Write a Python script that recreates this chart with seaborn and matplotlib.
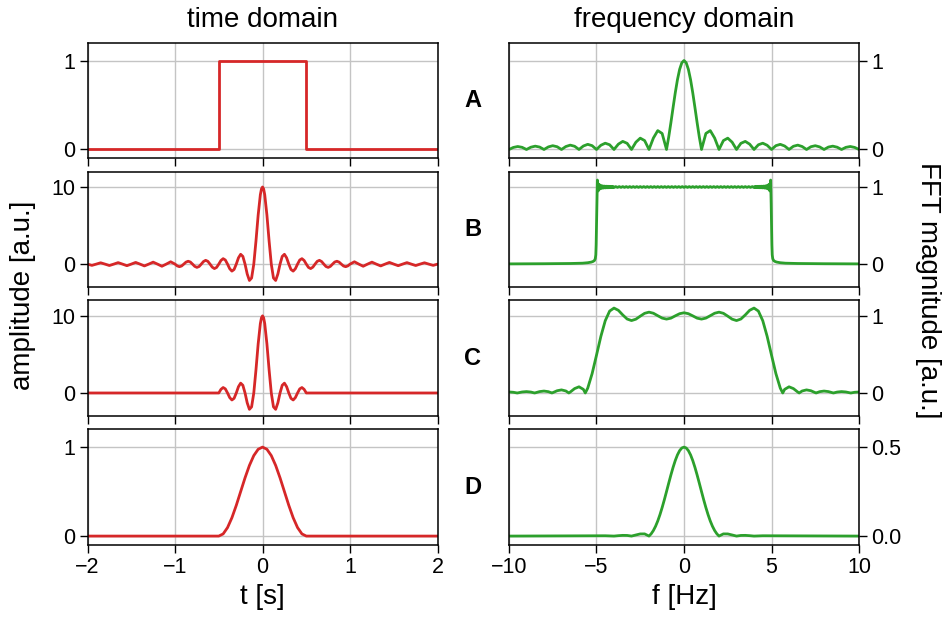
import matplotlib
matplotlib.use("Agg")
import matplotlib.pyplot as plt
import pandas as pd
import seaborn as sns

# ---------------- data ----------------
# time domain, row A: rectangle
t_A = [-2.0, -0.5, -0.5, 0.5, 0.5, 2.0]
amp_A = [0, 0, 1, 1, 0, 0]

# time domain, row B: sinc
t_B = [-2.0, -1.95, -1.9, -1.85, -1.8, -1.75, -1.7, -1.65, -1.6, -1.55, -1.5, -1.45, -1.4, -1.35,
       -1.3, -1.25, -1.2, -1.15, -1.1, -1.05,
       -1.0, -0.975, -0.95, -0.925, -0.9, -0.875, -0.85, -0.825, -0.8, -0.775, -0.75, -0.725, -0.7,
       -0.675, -0.65, -0.625, -0.6, -0.575, -0.55, -0.525,
       -0.5, -0.475, -0.45, -0.425, -0.4, -0.375, -0.35, -0.325, -0.3, -0.275, -0.25, -0.225, -0.2,
       -0.175, -0.15, -0.125, -0.1, -0.075, -0.05, -0.025, -0.0125,
       0.0,
       0.0125, 0.025, 0.05, 0.075, 0.1, 0.125, 0.15, 0.175, 0.2, 0.225, 0.25, 0.275, 0.3, 0.325,
       0.35, 0.375, 0.4, 0.425, 0.45, 0.475, 0.5,
       0.525, 0.55, 0.575, 0.6, 0.625, 0.65, 0.675, 0.7, 0.725, 0.75, 0.775, 0.8, 0.825, 0.85,
       0.875, 0.9, 0.925, 0.95, 0.975, 1.0,
       1.05, 1.1, 1.15, 1.2, 1.25, 1.3, 1.35, 1.4, 1.45, 1.5, 1.55, 1.6, 1.65, 1.7, 1.75, 1.8,
       1.85, 1.9, 1.95, 2.0]
amp_B = [0.0, -0.163, 0.0, 0.172, 0.0, -0.182, 0.0, 0.193, 0.0, -0.205, 0.0, 0.220, 0.0, -0.236,
         0.0, 0.255, 0.0, -0.277, 0.0, 0.303,
         0.0, -0.231, -0.335, -0.243, 0.0, 0.257, 0.374, 0.273, 0.0, -0.290, -0.424, -0.310, 0.0,
         0.333, 0.490, 0.360, 0.0, -0.391, -0.579, -0.429,
         0.0, 0.474, 0.707, 0.530, 0.0, -0.600, -0.909, -0.693, 0.0, 0.818, 1.273, 1.000, 0.0,
         -1.286, -2.122, -1.801, 0.0, 3.001, 6.366, 9.003, 9.745,
         10.0,
         9.745, 9.003, 6.366, 3.001, 0.0, -1.801, -2.122, -1.286, 0.0, 1.000, 1.273, 0.818, 0.0,
         -0.693, -0.909, -0.600, 0.0, 0.530, 0.707, 0.474, 0.0,
         -0.429, -0.579, -0.391, 0.0, 0.360, 0.490, 0.333, 0.0, -0.310, -0.424, -0.290, 0.0,
         0.273, 0.374, 0.257, 0.0, -0.243, -0.335, -0.231, 0.0,
         0.303, 0.0, -0.277, 0.0, 0.255, 0.0, -0.236, 0.0, 0.220, 0.0, -0.205, 0.0, 0.193, 0.0,
         -0.182, 0.0, 0.172, 0.0, -0.163, 0.0]

# time domain, row C: sinc truncated to |t| <= 0.5
t_C = [-2.0, -0.5, -0.475, -0.45, -0.425, -0.4, -0.375, -0.35, -0.325, -0.3, -0.275, -0.25,
       -0.225, -0.2, -0.175, -0.15, -0.125, -0.1, -0.075, -0.05, -0.025, -0.0125, 0.0,
       0.0125, 0.025, 0.05, 0.075, 0.1, 0.125, 0.15, 0.175, 0.2, 0.225, 0.25, 0.275, 0.3, 0.325,
       0.35, 0.375, 0.4, 0.425, 0.45, 0.475, 0.5, 2.0]
amp_C = [0.0, 0.0, 0.474, 0.707, 0.530, 0.0, -0.600, -0.909, -0.693, 0.0, 0.818, 1.273,
         1.000, 0.0, -1.286, -2.122, -1.801, 0.0, 3.001, 6.366, 9.003, 9.745, 10.0,
         9.745, 9.003, 6.366, 3.001, 0.0, -1.801, -2.122, -1.286, 0.0, 1.000, 1.273, 0.818, 0.0,
         -0.693, -0.909, -0.600, 0.0, 0.530, 0.707, 0.474, 0.0, 0.0]

# time domain, row D: Hann window
t_D = [-2.0, -0.5, -0.45, -0.4, -0.35, -0.3, -0.25, -0.2, -0.15, -0.1, -0.05, 0.0,
       0.05, 0.1, 0.15, 0.2, 0.25, 0.3, 0.35, 0.4, 0.45, 0.5, 2.0]
amp_D = [0.0, 0.0, 0.0245, 0.0955, 0.2061, 0.3455, 0.5, 0.6545, 0.7939, 0.9045, 0.9755, 1.0,
         0.9755, 0.9045, 0.7939, 0.6545, 0.5, 0.3455, 0.2061, 0.0955, 0.0245, 0.0, 0.0]

# frequency domain, row A
f_A = [-10.0, -9.75, -9.5, -9.25, -9.0, -8.75, -8.5, -8.25, -8.0, -7.75, -7.5, -7.25, -7.0,
       -6.75, -6.5, -6.25, -6.0, -5.75, -5.5, -5.25, -5.0, -4.75, -4.5, -4.25, -4.0, -3.75,
       -3.5, -3.25, -3.0, -2.75, -2.5, -2.25, -2.0, -1.75, -1.5, -1.25, -1.0, -0.875, -0.75,
       -0.625, -0.5, -0.375, -0.25, -0.125, 0.0, 0.125, 0.25, 0.375, 0.5, 0.625, 0.75, 0.875,
       1.0, 1.25, 1.5, 1.75, 2.0, 2.25, 2.5, 2.75, 3.0, 3.25, 3.5, 3.75, 4.0, 4.25, 4.5, 4.75,
       5.0, 5.25, 5.5, 5.75, 6.0, 6.25, 6.5, 6.75, 7.0, 7.25, 7.5, 7.75, 8.0, 8.25, 8.5, 8.75,
       9.0, 9.25, 9.5, 9.75, 10.0]
mag_A = [0.0, 0.0231, 0.0335, 0.0243, 0.0, 0.0257, 0.0374, 0.0273, 0.0, 0.0290, 0.0424, 0.0310, 0.0,
         0.0333, 0.0490, 0.0360, 0.0, 0.0391, 0.0579, 0.0429, 0.0, 0.0474, 0.0707, 0.0530, 0.0, 0.0600,
         0.0909, 0.0693, 0.0, 0.0818, 0.1273, 0.1000, 0.0, 0.1286, 0.2122, 0.1801, 0.0, 0.1392, 0.3001,
         0.4705, 0.6366, 0.7842, 0.9003, 0.9745, 1.0, 0.9745, 0.9003, 0.7842, 0.6366, 0.4705, 0.3001, 0.1392,
         0.0, 0.1801, 0.2122, 0.1286, 0.0, 0.1000, 0.1273, 0.0818, 0.0, 0.0693, 0.0909, 0.0600,
         0.0, 0.0530, 0.0707, 0.0474, 0.0, 0.0429, 0.0579, 0.0391, 0.0, 0.0360, 0.0490, 0.0333,
         0.0, 0.0310, 0.0424, 0.0290, 0.0, 0.0273, 0.0374, 0.0257, 0.0, 0.0243, 0.0335, 0.0231, 0.0]

# frequency domain, row B: rectangle with ringing at the edges
f_B = [-10.0, -8.0, -6.5, -5.8, -5.5, -5.3, -5.2, -5.12, -5.07, -5.04, -5.02, -5.0, -4.98, -4.96,
       -4.95, -4.9, -4.85, -4.8, -4.75, -4.7, -4.65, -4.6, -4.55, -4.5, -4.45, -4.4, -4.35, -4.3,
       -4.25, -4.2, -4.15, -4.1, -4.05, -4.0,
       -3.9, -3.8, -3.7, -3.6, -3.5, -3.4, -3.3, -3.2, -3.1, -3.0, -2.9, -2.8, -2.7, -2.6, -2.5,
       -2.4, -2.3, -2.2, -2.1, -2.0, -1.9, -1.8, -1.7, -1.6, -1.5, -1.4, -1.3, -1.2, -1.1, -1.0,
       -0.9, -0.8, -0.7, -0.6, -0.5, -0.4, -0.3, -0.2, -0.1, 0.0, 0.1, 0.2, 0.3, 0.4, 0.5, 0.6,
       0.7, 0.8, 0.9, 1.0, 1.1, 1.2, 1.3, 1.4, 1.5, 1.6, 1.7, 1.8, 1.9, 2.0, 2.1, 2.2, 2.3, 2.4,
       2.5, 2.6, 2.7, 2.8, 2.9, 3.0, 3.1, 3.2, 3.3, 3.4, 3.5, 3.6, 3.7, 3.8, 3.9,
       4.0, 4.05, 4.1, 4.15, 4.2, 4.25, 4.3, 4.35, 4.4, 4.45, 4.5, 4.55, 4.6, 4.65, 4.7, 4.75,
       4.8, 4.85, 4.9, 4.95, 4.96, 4.98, 5.0, 5.02, 5.04, 5.07, 5.12, 5.2, 5.3, 5.5, 5.8, 6.5,
       8.0, 10.0]
mag_B = [0.003, 0.005, 0.008, 0.012, 0.018, 0.026, 0.034, 0.046, 0.07, 0.12, 0.25, 0.5, 0.78, 1.0,
         1.09, 0.95, 1.035, 0.975, 1.02, 0.983, 1.015, 0.986, 1.012, 0.988, 1.011, 0.989, 1.010, 0.990,
         1.009, 0.991, 1.008, 0.992, 1.007, 0.993,
         1.005, 0.995, 1.005, 0.995, 1.005, 0.995, 1.005, 0.995, 1.005, 0.995, 1.005, 0.995, 1.005,
         0.995, 1.005, 0.995, 1.005, 0.995, 1.005, 0.995, 1.005, 0.995, 1.005, 0.995, 1.005, 0.995,
         1.005, 0.995, 1.005, 0.995, 1.005, 0.995, 1.005, 0.995, 1.005, 0.995, 1.005, 0.995, 1.005,
         0.995, 1.005, 0.995, 1.005, 0.995, 1.005, 0.995, 1.005, 0.995, 1.005, 0.995, 1.005, 0.995,
         1.005, 0.995, 1.005, 0.995, 1.005, 0.995, 1.005, 0.995, 1.005, 0.995, 1.005, 0.995, 1.005,
         0.995, 1.005, 0.995, 1.005, 0.995, 1.005, 0.995, 1.005, 0.995, 1.005, 0.995, 1.005, 0.995,
         1.005,
         0.993, 1.007, 0.992, 1.008, 0.991, 1.009, 0.990, 1.010, 0.989, 1.011, 0.988, 1.012, 0.986,
         1.015, 0.983, 1.02, 0.975, 1.035, 0.95, 1.09, 1.0, 0.78, 0.5, 0.25, 0.12, 0.07, 0.046,
         0.034, 0.026, 0.018, 0.012, 0.008, 0.005, 0.003]

# frequency domain, row C: smoothed rectangle with ripple
f_C = [-10.0, -9.75, -9.53, -9.5, -9.25, -9.0, -8.75, -8.54, -8.5, -8.25, -8.0, -7.75, -7.55,
       -7.5, -7.25, -7.0, -6.75, -6.58, -6.5, -6.25, -6.0, -5.75, -5.64, -5.5, -5.25, -5.0,
       -4.75, -4.5, -4.25, -4.0, -3.75, -3.5, -3.25, -3.0, -2.75, -2.5, -2.25, -2.0, -1.75,
       -1.5, -1.25, -1.0, -0.75, -0.5, -0.25, 0.0, 0.25, 0.5, 0.75, 1.0, 1.25, 1.5, 1.75, 2.0,
       2.25, 2.5, 2.75, 3.0, 3.25, 3.5, 3.75, 4.0, 4.25, 4.5, 4.75, 5.0, 5.25, 5.5, 5.64, 5.75,
       6.0, 6.25, 6.5, 6.58, 6.75, 7.0, 7.25, 7.5, 7.55, 7.75, 8.0, 8.25, 8.5, 8.54, 8.75, 9.0,
       9.25, 9.5, 9.53, 9.75, 10.0]
mag_C = [0.013, 0.009, 0.0, 0.001, 0.013, 0.018, 0.012, 0.0, 0.002, 0.018, 0.025, 0.017, 0.0,
         0.004, 0.029, 0.040, 0.026, 0.0, 0.012, 0.057, 0.080, 0.047, 0.0, 0.063, 0.251, 0.490,
         0.734, 0.937, 1.062, 1.101, 1.072, 1.012, 0.959, 0.939, 0.957, 0.996, 1.033, 1.048, 1.034,
         1.002, 0.971, 0.958, 0.970, 1.000, 1.028, 1.040, 1.028, 1.000, 0.970, 0.958, 0.971, 1.002,
         1.034, 1.048, 1.033, 0.996, 0.957, 0.939, 0.959, 1.012, 1.072, 1.101, 1.062, 0.937, 0.734,
         0.490, 0.251, 0.063, 0.0, 0.047, 0.080, 0.057, 0.012, 0.0, 0.026, 0.040, 0.029, 0.004,
         0.0, 0.017, 0.025, 0.018, 0.002, 0.0, 0.012, 0.018, 0.013, 0.001, 0.0, 0.009, 0.013]

# frequency domain, row D: spectrum of the Hann window
f_D = [-10.0, -4.5, -4.0, -3.75, -3.5, -3.25, -3.0, -2.75, -2.5, -2.25, -2.0, -1.875, -1.75,
       -1.625, -1.5, -1.375, -1.25, -1.125, -1.0, -0.875, -0.75, -0.625, -0.5, -0.375, -0.25,
       -0.125, 0.0, 0.125, 0.25, 0.375, 0.5, 0.625, 0.75, 0.875, 1.0, 1.125, 1.25, 1.375, 1.5,
       1.625, 1.75, 1.875, 2.0, 2.25, 2.5, 2.75, 3.0, 3.25, 3.5, 3.75, 4.0, 4.5, 10.0]
mag_D = [0.0, 0.0018, 0.0, 0.0023, 0.0040, 0.0036, 0.0, 0.0062, 0.0121, 0.0123, 0.0, 0.0129,
         0.0312, 0.0552, 0.0849, 0.1201, 0.1601, 0.2038, 0.25, 0.2970, 0.3430, 0.3860, 0.4244,
         0.4562, 0.4801, 0.4950, 0.5, 0.4950, 0.4801, 0.4562, 0.4244, 0.3860, 0.3430, 0.2970,
         0.25, 0.2038, 0.1601, 0.1201, 0.0849, 0.0552, 0.0312, 0.0129, 0.0, 0.0123, 0.0121,
         0.0062, 0.0, 0.0036, 0.0040, 0.0023, 0.0, 0.0018, 0.0]

row_labels = ["A", "B", "C", "D"]
left_yticks = [[0, 1], [0, 10], [0, 10], [0, 1]]
left_ylims = [(-0.1, 1.2), (-3, 12), (-3, 12), (-0.1, 1.2)]
right_yticks = [[0, 1], [0, 1], [0, 1], [0, 0.5]]
right_ylims = [(-0.1, 1.2), (-0.3, 1.2), (-0.3, 1.2), (-0.05, 0.6)]
t_ticks = [-2, -1, 0, 1, 2]
f_ticks = [-10, -5, 0, 5, 10]

# ---------------- style ----------------
sns.set_style("ticks")
plt.rcParams["font.family"] = ["Liberation Sans", "DejaVu Sans"]
for key in ("text.color", "axes.labelcolor", "xtick.color", "ytick.color", "axes.edgecolor"):
    plt.rcParams[key] = "black"
RED = "#d62728"
GREEN = "#2ca02c"
TICK_FS = 15.5
LABEL_FS = 20

fig, axes = plt.subplots(4, 2, figsize=(9.44, 6.28), dpi=100)
fig.subplots_adjust(left=0.0927, right=0.910, top=0.932, bottom=0.1322,
                    hspace=0.114, wspace=0.204)

time_data = [(t_A, amp_A), (t_B, amp_B), (t_C, amp_C), (t_D, amp_D)]
freq_data = [(f_A, mag_A), (f_B, mag_B), (f_C, mag_C), (f_D, mag_D)]

for i in range(4):
    axl, axr = axes[i, 0], axes[i, 1]
    dl = pd.DataFrame({"t": time_data[i][0], "amp": time_data[i][1]})
    dr = pd.DataFrame({"f": freq_data[i][0], "mag": freq_data[i][1]})
    sns.lineplot(data=dl, x="t", y="amp", ax=axl, color=RED, lw=2.0,
                 estimator=None, sort=False)
    sns.lineplot(data=dr, x="f", y="mag", ax=axr, color=GREEN, lw=2.0,
                 estimator=None, sort=False)

    axl.set_xlim(-2, 2)
    axr.set_xlim(-10, 10)
    axl.set_xticks(t_ticks)
    axr.set_xticks(f_ticks)
    axl.set_ylim(*left_ylims[i])
    axr.set_ylim(*right_ylims[i])
    axl.set_yticks(left_yticks[i])
    axr.set_yticks(right_yticks[i])
    axr.yaxis.tick_right()

    for ax in (axl, axr):
        ax.set_xlabel("")
        ax.set_ylabel("")
        ax.set_axisbelow(True)
        ax.grid(True, color="#c4c4c4", lw=1.0)
        for sp in ax.spines.values():
            sp.set_visible(True)
            sp.set_color("black")
            sp.set_linewidth(1.1)
        ax.tick_params(direction="out", length=5.5, width=1.0, labelsize=TICK_FS,
                       color="black", labelcolor="black", pad=3.5)
        if i < 3:
            ax.tick_params(labelbottom=False)

    axr.tick_params(axis="y", left=False, right=True, labelleft=False, labelright=True)
    axr.text(-0.103, 0.5, row_labels[i], transform=axr.transAxes, ha="center",
             va="center", fontsize=17, fontweight="bold", color="black")

axes[0, 0].set_title("time domain", fontsize=LABEL_FS, pad=11, color="black")
axes[0, 1].set_title("frequency domain", fontsize=LABEL_FS, pad=11, color="black")
axes[3, 0].set_xlabel("t [s]", fontsize=LABEL_FS, color="black")
axes[3, 1].set_xlabel("f [Hz]", fontsize=LABEL_FS, color="black")
fig.text(0.024, 1 - 295 / 628, "amplitude [a.u.]", rotation=90, ha="center",
         va="center", fontsize=LABEL_FS, color="black")
fig.text(0.983, 1 - 290 / 628, "FFT magnitude [a.u.]", rotation=270, ha="center",
         va="center", fontsize=LABEL_FS, color="black")

fig.savefig("out.png", dpi=100)
